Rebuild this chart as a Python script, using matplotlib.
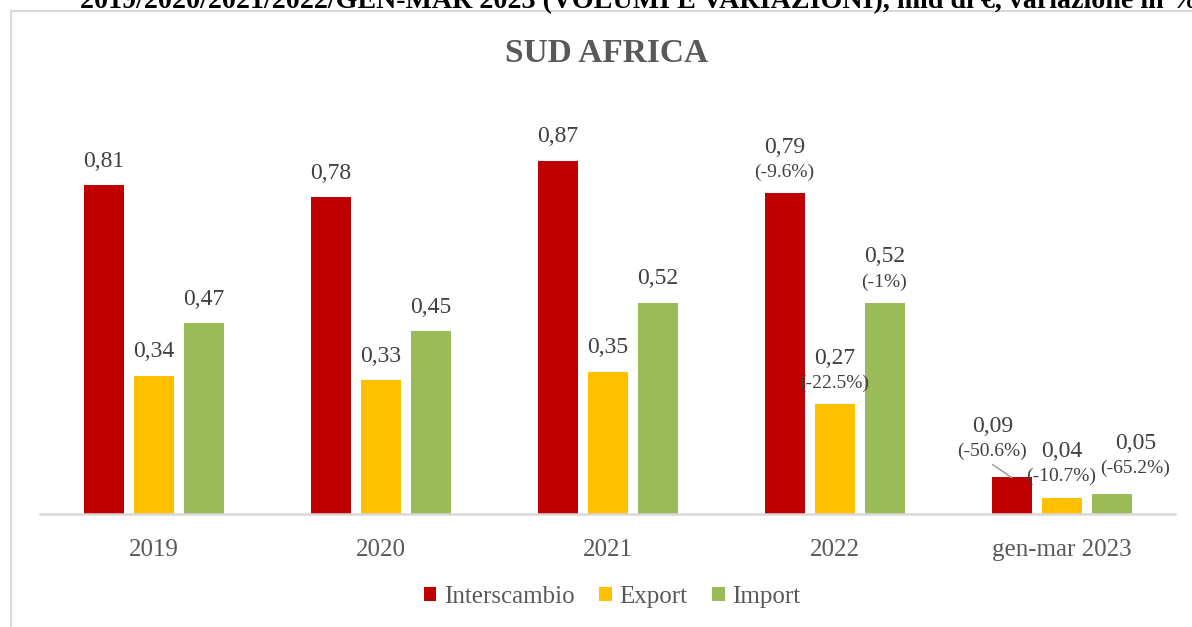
import matplotlib
matplotlib.use("Agg")
import matplotlib.pyplot as plt
from matplotlib.patches import Patch
from matplotlib.lines import Line2D
import numpy as np

# --- data -------------------------------------------------------------
categories = ["2019", "2020", "2021", "2022", "gen-mar 2023"]
series_names = ["Interscambio", "Export", "Import"]
interscambio = [0.81, 0.78, 0.87, 0.79, 0.09]
export = [0.34, 0.33, 0.35, 0.27, 0.04]
imports = [0.47, 0.45, 0.52, 0.52, 0.05]
interscambio_var = [None, None, None, "-9.6%", "-50.6%"]
export_var = [None, None, None, "-22.5%", "-10.7%"]
import_var = [None, None, None, "-1%", "-65.2%"]

title = "SUD AFRICA"
header = "2019/2020/2021/2022/GEN-MAR 2023 (VOLUMI E VARIAZIONI), mld di €, variazione in %"

# --- style ------------------------------------------------------------
colors = ["#C00000", "#FFC000", "#9BBB59"]
serif = ["Liberation Serif", "DejaVu Serif"]
plt.rcParams["font.family"] = serif

W, H = 1192, 627
fig = plt.figure(figsize=(W / 100, H / 100), dpi=100)
fig.patch.set_facecolor("white")

# plot area in pixel terms
left_px, right_px, base_px, top_px = 40, 1175, 514, 100
ax = fig.add_axes([left_px / W, (H - base_px) / H,
                   (right_px - left_px) / W, (base_px - top_px) / H])
ymax = (base_px - top_px) / 406.0
ax.set_xlim(-0.5, len(categories) - 0.5)
ax.set_ylim(0, ymax)

x = np.arange(len(categories))
step = 50 / 227
width = 40 / 227
values = [interscambio, export, imports]
variations = [interscambio_var, export_var, import_var]

# label offsets in pixels (dx, dy of value centre above bar top)
custom = {
    (0, 4): (-19, 51),
    (1, 4): (0, 46),
    (2, 4): (24, 50),
}

for s, (vals, vars_, col) in enumerate(zip(values, variations, colors)):
    pos = x + (s - 1) * step
    bars = ax.bar(pos, vals, width=width, color=col, zorder=2)
    for i, (b, v, pct) in enumerate(zip(bars, vals, vars_)):
        cx = b.get_x() + b.get_width() / 2
        top = b.get_height()
        txt = f"{v:.2f}".replace(".", ",")
        if pct is None:
            ax.annotate(txt, (cx, top), xytext=(0, 24),
                        textcoords="offset pixels", ha="center", va="center",
                        fontsize=17, color="#404040")
        else:
            dx, dy = custom.get((s, i), (0, 46))
            ax.annotate(txt, (cx, top), xytext=(dx, dy),
                        textcoords="offset pixels", ha="center", va="center",
                        fontsize=17, color="#404040")
            ax.annotate(f"({pct})", (cx, top), xytext=(dx, dy - 25),
                        textcoords="offset pixels", ha="center", va="center",
                        fontsize=14, color="#404040")
            if (s, i) == (0, 4):
                ax.annotate("", (cx, top), xytext=(dx, dy - 38),
                            textcoords="offset pixels",
                            arrowprops=dict(arrowstyle="-", color="#A6A6A6",
                                            lw=1.2, shrinkA=0, shrinkB=0))

# axes cosmetics
for sp in ["top", "right", "left"]:
    ax.spines[sp].set_visible(False)
ax.spines["bottom"].set_color("#D9D9D9")
ax.spines["bottom"].set_linewidth(1.8)
ax.set_yticks([])
ax.set_xticks(x)
ax.set_xticklabels(categories, fontsize=18, color="#595959")
ax.tick_params(axis="x", length=0, pad=18)

# title and the header line running off the top edge
fig.text(0.5 * (503 + 710) / W, 1 - 54 / H, title, ha="center", va="center",
         fontsize=24, fontweight="bold", color="#595959", family=serif)
fig.text(80 / W, 1 - 8 / H, header, ha="left", va="baseline",
         fontsize=20.2, fontweight="bold", color="black", family=serif)

# chart frame
fig.add_artist(Line2D([11 / W, 11 / W], [0, 1 - 11 / H], color="#D9D9D9", lw=1.5))
fig.add_artist(Line2D([11 / W, 1], [1 - 11 / H, 1 - 11 / H], color="#D9D9D9", lw=1.5))

# legend
handles = [Patch(facecolor=c, edgecolor="none") for c in colors]
fig.legend(handles, series_names, loc="center", bbox_to_anchor=(612 / W, 1 - 597 / H),
           ncol=3, frameon=False, fontsize=18, labelcolor="#595959",
           handlelength=0.5, handleheight=0.5, handletextpad=0.3,
           columnspacing=1.0)

fig.savefig("out.png", dpi=100)
